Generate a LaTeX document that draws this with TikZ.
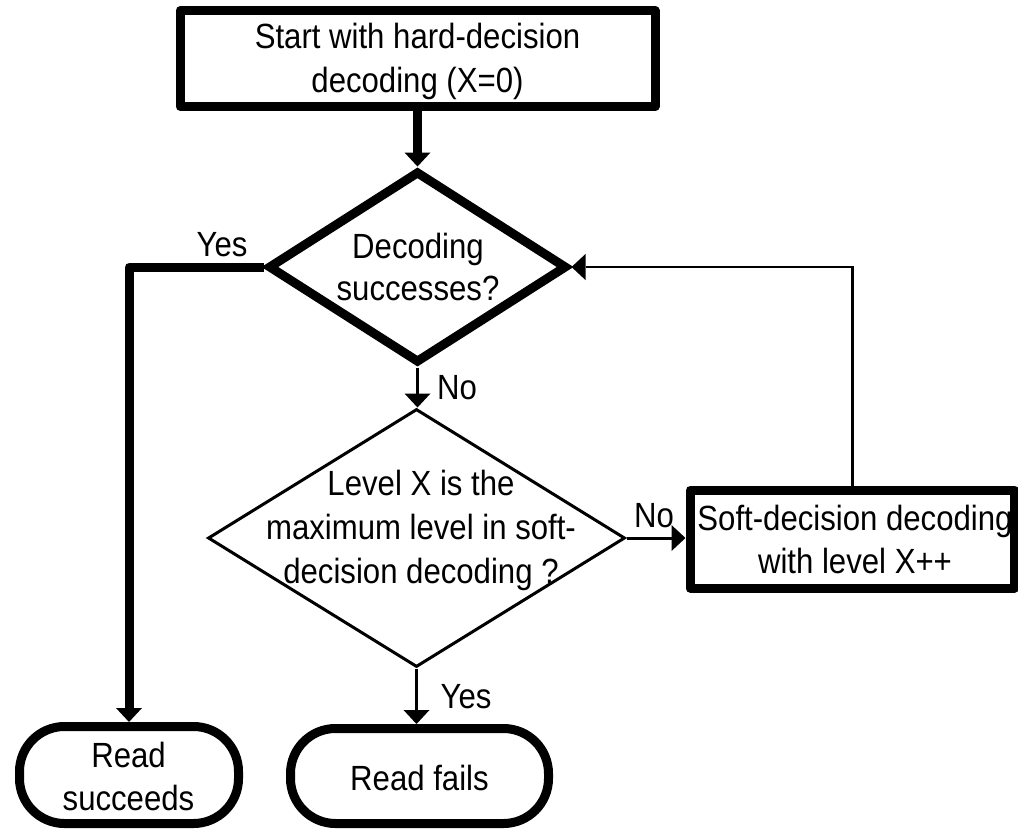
\documentclass[tikz,border=0pt]{standalone}
\usepackage{fontspec}
\setmainfont{Liberation Sans}[FakeStretch=0.89]
\usetikzlibrary{shapes.geometric,arrows.meta}
\begin{document}
\begin{tikzpicture}[x=1pt,y=-1pt,
  thickline/.style={draw, line width=9pt},
  thinline/.style={draw, line width=3pt},
  procbox/.style={rectangle, thickline, line join=round, inner sep=0pt},
  termbox/.style={rectangle, thickline, rounded corners=45pt, inner sep=0pt},
  decision/.style={diamond, draw, inner sep=0pt, line join=miter},
  txt/.style={inner sep=0pt, align=center, font=\fontsize{35}{44}\selectfont},
  lbl/.style={inner sep=0pt, anchor=base, font=\fontsize{35}{40}\selectfont},
  flowarrow/.style={-{Triangle[width=26pt,length=14pt,line width=0pt]}},
]
% canvas
\fill[white] (0,0) rectangle (1018,828);
\useasboundingbox (0,0) rectangle (1018,828);

% shapes
\node[procbox, minimum width=475pt, minimum height=96pt] (start) at (417.5,58.5) {};
\node[decision, line width=9pt, minimum width=299pt, minimum height=192pt] (d1) at (417.5,267) {};
\node[decision, line width=3pt, minimum width=417pt, minimum height=258pt] (d2) at (416.5,538) {};
\node[procbox, minimum width=324.5pt, minimum height=98pt] (soft) at (852.25,539) {};
\node[termbox, minimum width=219pt, minimum height=97pt] (rs) at (129,775) {};
\node[termbox, minimum width=258pt, minimum height=95pt] (rf) at (419.5,776) {};

% texts inside the shapes
\node[txt] (start-t) at (417.5,61) {Start with hard-decision\\decoding (X=0)};
\node[txt, font=\fontsize{35}{42}\selectfont] (d1-t) at (418,267) {Decoding\\successes?};
\node[txt] (d2-t) at (421,530.5) {Level X is the\\maximum level in soft-\\decision decoding ?};
\node[txt, font=\fontsize{35}{43}\selectfont] (soft-t) at (855,539.5) {Soft-decision decoding\\with level X++};
\node[txt, font=\fontsize{35}{43}\selectfont] (rs-t) at (128.5,776.5) {Read\\succeeds};
\node[txt] (rf-t) at (419.5,778) {Read fails};

% connectors
\draw[thickline, flowarrow] (start.south) -- (d1.north);
\draw[thickline, flowarrow, line join=round] (d1.west) -| (rs.north);
\draw[thinline, flowarrow] (d1.south) -- (d1.south |- d2.north);
\draw[thinline, flowarrow] (d2.east) -- (d2.east -| soft.west);
\draw[thinline, flowarrow] (d2.south) -- (d2.south |- rf.north);
\draw[line width=2.5pt, flowarrow] (soft.north) |- (d1.east);

% branch labels
\node[lbl] (yes-a) at (222,256) {Yes};
\node[lbl] (no-a) at (457,399) {No};
\node[lbl] (no-b) at (654,527) {No};
\node[lbl] (yes-b) at (466,708) {Yes};
\end{tikzpicture}
\end{document}
